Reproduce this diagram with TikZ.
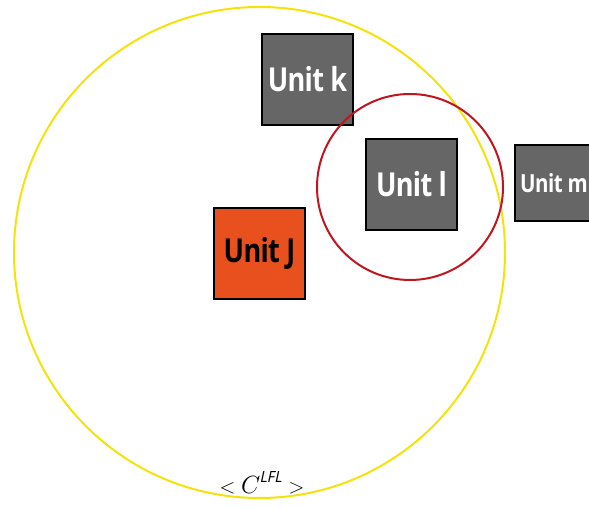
\documentclass[tikz,border=0pt]{standalone}
\usepackage{fontspec}
\setmainfont{Open Sans}
\newfontfamily\unitfont[FakeStretch=0.82, LetterSpace=-2]{Open Sans}
\begin{document}
\begin{tikzpicture}[x=1pt,y=1pt,
  unitbox/.style={draw=black, line width=2pt, fill=unitgray, minimum width=91pt, minimum height=91pt, inner sep=0pt, text=white, font=\unitfont\fontsize{33}{35}\selectfont\bfseries},
]
\definecolor{unitgray}{HTML}{666666}
\definecolor{unitorange}{HTML}{E8501E}
\definecolor{ringyellow}{HTML}{F5E20A}
\definecolor{ringred}{HTML}{C0151F}
\useasboundingbox (0,0) rectangle (589,508);
\node[unitbox] (k) at (307.5,428.5) {Unit k};
\node[unitbox] (l) at (411.5,323.5) {Unit l};
\node[unitbox, fill=unitorange, text=black] (j) at (259.5,254.5) {Unit J};
\node[unitbox, minimum width=78pt, minimum height=76pt, font=\unitfont\fontsize{25}{27}\selectfont\bfseries, anchor=west] (m) at (514,325) {Unit m};
\draw[ringyellow, line width=2pt] (259.5,255.5) circle (245.5);
\draw[ringred, line width=2pt] (410,321) circle (93);
\node[font=\fontsize{22}{24}\selectfont, inner sep=0pt] (lbl) at (262,25) {$<\mbox{\fontsize{27}{29}\selectfont$C$}^{\mathit{LFL}}>$};
\end{tikzpicture}
\end{document}
